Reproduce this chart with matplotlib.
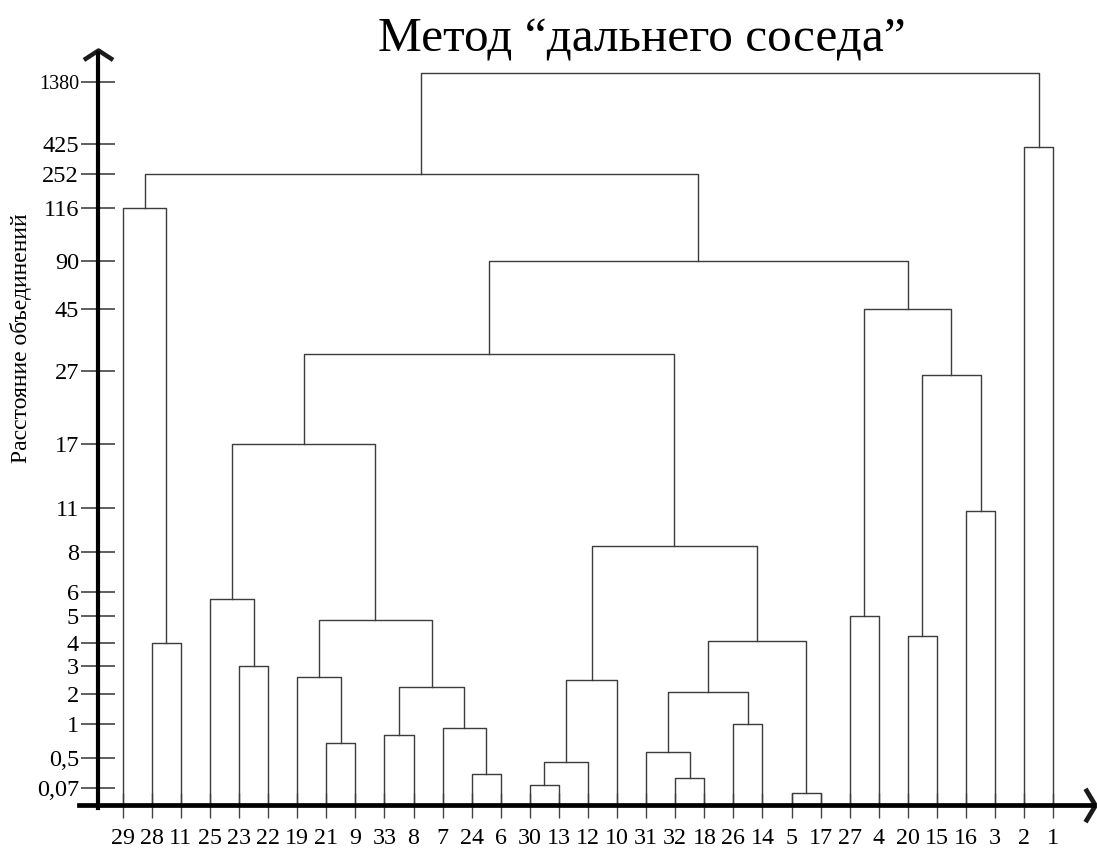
import numpy as np
import matplotlib
matplotlib.use("Agg")
from matplotlib import pyplot as plt
from matplotlib.path import Path
from matplotlib.ticker import NullLocator

plt.rcParams['font.family'] = ['Liberation Serif', 'DejaVu Serif']

# objects in the order they stand on the x axis
leaves = [29, 28, 11, 25, 23, 22, 19, 21, 9, 33, 8, 7, 24, 6, 30, 13, 12, 10,
          31, 32, 18, 26, 14, 5, 17, 27, 4, 20, 15, 16, 3, 2, 1]

# merges: child a, child b, distance (int = object, "cN" = merge number N)
merge_a = [28, 29, 23, 25, 21, 19, 33, 24, 7, "c6", "c5", "c3", 30, "c12", "c13",
           32, 31, 26, "c16", 5, "c18", "c14", "c11", 27, 20, 16, "c24", "c23",
           "c22", "c1", 2, "c29"]
merge_b = [11, "c0", 22, "c2", 9, "c4", 8, 6, "c7", "c8", "c9", "c10", 13, 12, 10,
           18, "c15", 14, "c17", 17, "c19", "c20", "c21", 4, 15, 3, "c25", "c26",
           "c27", "c28", 1, "c30"]
merge_h = [4, 116, 3, 5.7, 0.73, 2.6, 0.84, 0.27, 0.94, 2.25, 4.85, 17, 0.12, 0.45,
           2.5, 0.22, 0.6, 1.0, 2.07, 0.05, 4.06, 8.4, 32, 5.0, 4.25, 10.8, 26.5,
           45, 90, 252, 405, 1520]

# y axis: uneven hand-drawn scale
tick_vals = [0.07, 0.5, 1, 2, 3, 4, 5, 6, 8, 11, 17, 27, 45, 90, 116, 252, 425, 1380]
tick_text = ["0,07", "0,5", "1", "2", "3", "4", "5", "6", "8", "11", "17", "27",
             "45", "90", "116", "252", "425", "1380"]
# height of each tick above the x axis, pixels
tick_pos = [16.7, 46.7, 80.7, 110.7, 139, 162.3, 189, 213.3, 252.7, 297.3, 361,
            434, 496.3, 544.3, 597.3, 631.3, 661, 723.3]

kv = np.r_[0.0, tick_vals]
kp = np.r_[0.0, tick_pos]
lo_k = kp[1] / kv[1]
hi_k = (kp[-1] - kp[-2]) / (kv[-1] - kv[-2])


def fwd(v):
    v = np.asarray(v, float)
    p = np.interp(v, kv, kp)
    p = np.where(v < 0, v * lo_k, p)
    p = np.where(v > kv[-1], kp[-1] + (v - kv[-1]) * hi_k, p)
    return p


def inv(p):
    p = np.asarray(p, float)
    v = np.interp(p, kp, kv)
    v = np.where(p < 0, p / lo_k, v)
    v = np.where(p > kp[-1], kv[-1] + (p - kp[-1]) / hi_k, v)
    return v


W, H = 1097, 850
step = 29.08      # px between leaves
x0 = 122.7        # px of first leaf
fig = plt.figure(figsize=(W / 100, H / 100), dpi=100)
ax = fig.add_axes([0, 0, 1, 1])
ax.set_yscale('function', functions=(fwd, inv))
ax.set_xlim(-x0 / step, (W - x0) / step)
ax.set_ylim(float(inv(-(H - 805))), float(inv(805)))

line_c = '#3c3c3c'
pos = {leaf: i for i, leaf in enumerate(leaves)}
hgt = {leaf: 0.0 for leaf in leaves}
for k, (a, b, h) in enumerate(zip(merge_a, merge_b, merge_h)):
    xa, xb = pos[a], pos[b]
    ax.plot([xa, xa, xb, xb], [hgt[a], h, h, hgt[b]], color=line_c, lw=1.0)
    pos[f"c{k}"] = (xa + xb) / 2
    hgt[f"c{k}"] = h

# axes
yx = -25 / step
for s in ['top', 'right']:
    ax.spines[s].set_visible(False)
ax.spines['left'].set_position(('data', yx))
ax.spines['left'].set_linewidth(3)
ax.spines['left'].set_bounds(float(inv(-3)), float(inv(752)))
ax.spines['bottom'].set_position(('data', 0))
ax.spines['bottom'].set_linewidth(3.4)
ax.spines['bottom'].set_bounds(-43.7 / step, (1093 - x0) / step)

ax.set_yticks(tick_vals, labels=tick_text)
ax.yaxis.set_minor_locator(NullLocator())
ax.tick_params(axis='y', direction='inout', length=24, width=1.1, color='#333333',
               pad=1.5, labelsize=17.5)
for t in ax.get_yticklabels():
    if t.get_text() == "1380":
        t.set_fontsize(14.5)
ax.set_xticks(range(len(leaves)), labels=[str(l) for l in leaves])
ax.tick_params(axis='x', direction='inout', length=18, width=1.0, color='#444444',
               pad=7.5, labelsize=17.3)

# arrow heads
up = Path([(-1, -0.65), (0, 0), (1, -0.65)], [Path.MOVETO, Path.LINETO, Path.LINETO])
right = Path([(-0.6, 1), (0, 0), (-0.6, -1)], [Path.MOVETO, Path.LINETO, Path.LINETO])
ax.plot([yx], [float(inv(755))], marker=up, ms=21, mew=3.2, color='#1a1a1a',
        fillstyle='none', clip_on=False)
ax.plot([(1095 - x0) / step], [0], marker=right, ms=24, mew=3.4, color='#1a1a1a',
        fillstyle='none', clip_on=False)

fig.text(0.585, 0.953, "Метод “дальнего соседа”", ha='center', va='center', fontsize=35.5)
fig.text(21 / W, 1 - 338 / H, "Расстояние объединений", rotation=90,
         ha='center', va='center', fontsize=17)

fig.savefig('out.png', dpi=100)
